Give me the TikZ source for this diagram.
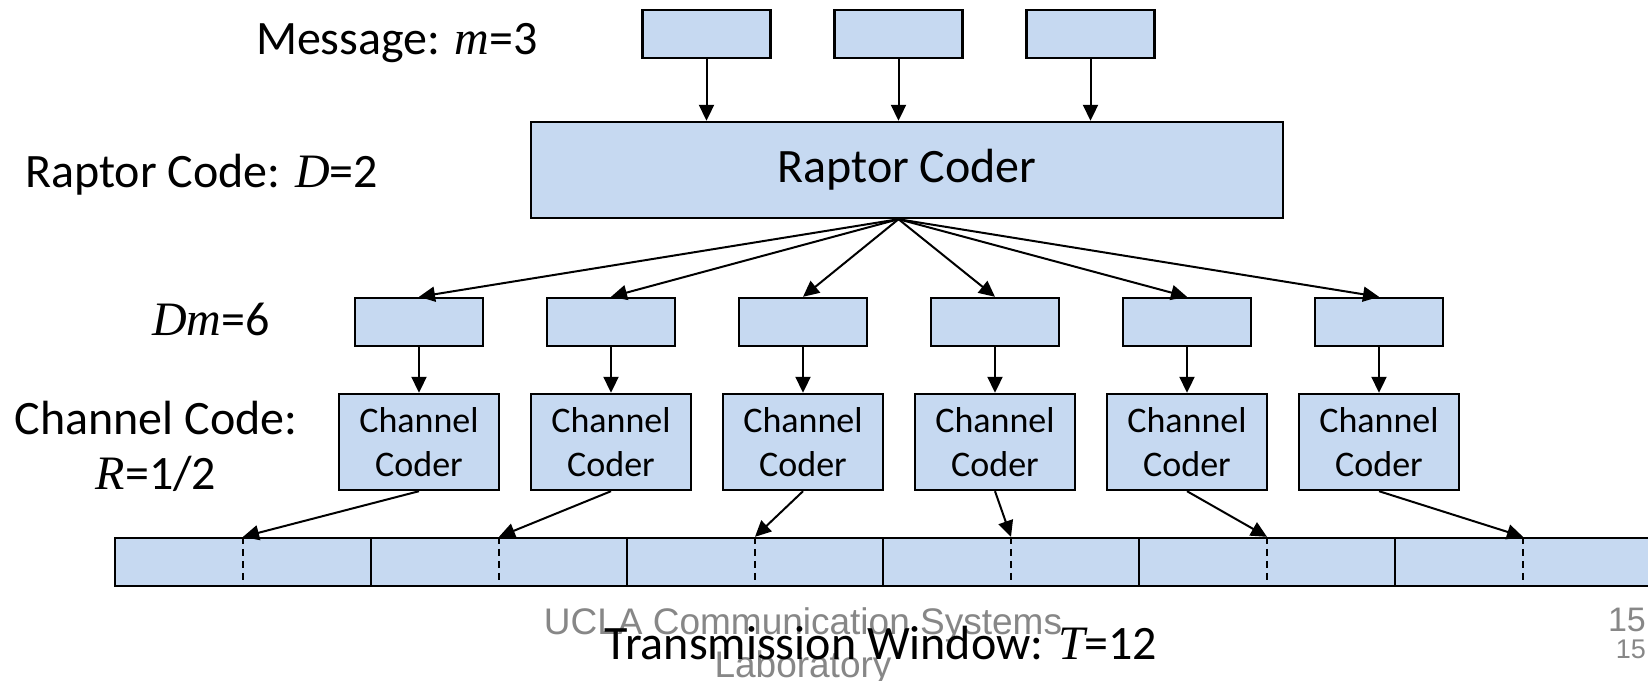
\documentclass[tikz,border=0pt]{standalone}
\usepackage{fontspec}
\setmainfont{Carlito}
\newfontfamily\timesfont{Liberation Serif}
\newfontfamily\uclafont{Liberation Sans}
\usepackage{tikz}
\usetikzlibrary{arrows.meta, positioning}
\definecolor{boxblue}{RGB}{198,217,241}
\definecolor{footgray}{RGB}{135,135,135}
\newcommand{\mvar}[1]{{\timesfont\itshape #1}}

\begin{document}
\begin{tikzpicture}[x=1pt, y=-1pt,
    blk/.style={draw, fill=boxblue, line width=2.4pt, inner sep=0pt, minimum width=128pt, minimum height=48pt},
    arr/.style={line width=2pt, -{Triangle[length=16pt, width=15pt]}},
    lbl/.style={inner sep=0pt, font=\fontsize{48}{55}\selectfont},
    foot/.style={inner sep=0pt, text=footgray}]
    % Page
    \useasboundingbox (0,0) rectangle (1648,680);
    \clip (0,0) rectangle (1648,680);
    \fill[white] (0,0) rectangle (1648,680);

    % Footer (behind the labels)
    \node[foot, align=center, font=\uclafont\fontsize{37}{43}\selectfont] (footer) at (803, 646) {UCLA Communication Systems\\Laboratory};
    \node[foot, anchor=base east, font=\uclafont\fontsize{34}{40}\selectfont] (pagenum) at (1646, 631) {15};
    \node[foot, anchor=base east, font=\uclafont\fontsize{27}{32}\selectfont] (pagenumsmall) at (1646, 658) {15};

    % Message and raptor coder
    \foreach \i in {1,2,3}
      \node[blk] (msg\i) at (514.5 + 192*\i, 34) {};

    \node[blk, minimum width=752pt, minimum height=96pt, font=\fontsize{48}{55}\selectfont] (raptor) at (907, 170) {Raptor Coder};

    \foreach \i in {1,2,3}
      \draw[arr] (msg\i) -- (msg\i |- raptor.north);

    \coordinate (fan) at (msg2 |- raptor.south);

    % Encoded packets and channel coders
    \foreach \i in {1,...,6} {
      \node[blk] (pkt\i) at (227 + 192*\i, 322) {};
      \node[blk, minimum width=160pt, minimum height=96pt, align=center, font=\fontsize{36}{44}\selectfont] (coder\i) at (227 + 192*\i, 442) {Channel\\Coder};
      \draw[arr] (fan) -- (pkt\i.north);
      \draw[arr] (pkt\i) -- (coder\i);
    }

    % Transmission window
    \foreach \i in {1,...,6} {
      \node[blk, minimum width=256pt] (slot\i) at (-13 + 256*\i, 562) {};
      \draw[line width=2pt, dash pattern=on 7pt off 5pt] (slot\i.north) -- (slot\i.south);
      \draw[arr] (coder\i.south) -- (slot\i.north);
    }

    % Labels
    \node[lbl, anchor=base east] (msglbl) at (538, 54) {Message: \mvar{m}=3};
    \node[lbl, anchor=base west] (raptorlbl) at (25, 187) {Raptor Code: \mvar{D}=2};
    \node[lbl, anchor=base west] (dmlbl) at (152, 335) {\mvar{Dm}=6};
    \node[lbl, align=center] (chlbl) at (156, 446) {Channel Code:\\\mvar{R}=1/2};
    \node[lbl, anchor=base] (winlbl) at (881, 659) {Transmission Window: \mvar{T}=12};
\end{tikzpicture}
\end{document}
